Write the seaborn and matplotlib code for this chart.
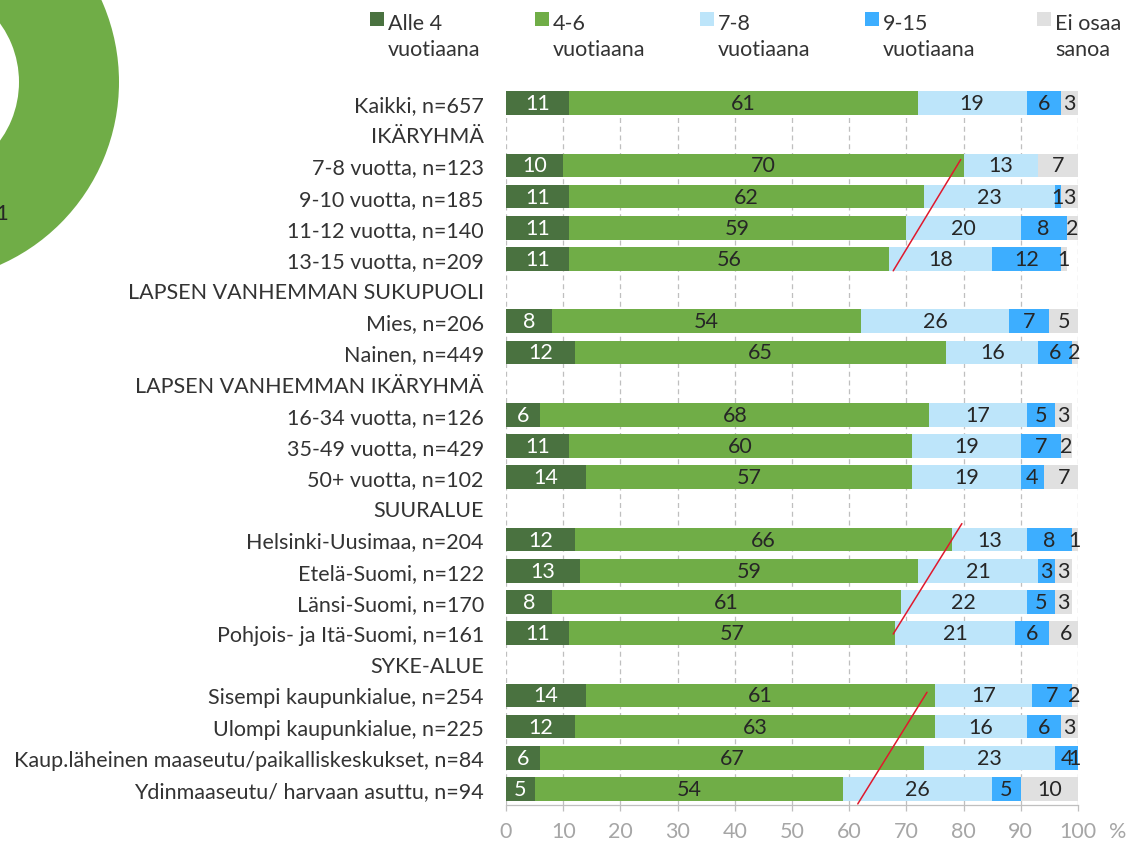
import numpy as np
import pandas as pd
import matplotlib
matplotlib.use("Agg")
import matplotlib.pyplot as plt
import seaborn as sns
from matplotlib.patches import Wedge, Rectangle

# ---------------- data ----------------
categories = [
    "Kaikki, n=657",
    "IKÄRYHMÄ",
    "7-8 vuotta, n=123",
    "9-10 vuotta, n=185",
    "11-12 vuotta, n=140",
    "13-15 vuotta, n=209",
    "LAPSEN VANHEMMAN SUKUPUOLI",
    "Mies, n=206",
    "Nainen, n=449",
    "LAPSEN VANHEMMAN IKÄRYHMÄ",
    "16-34 vuotta, n=126",
    "35-49 vuotta, n=429",
    "50+ vuotta, n=102",
    "SUURALUE",
    "Helsinki-Uusimaa, n=204",
    "Etelä-Suomi, n=122",
    "Länsi-Suomi, n=170",
    "Pohjois- ja Itä-Suomi, n=161",
    "SYKE-ALUE",
    "Sisempi kaupunkialue, n=254",
    "Ulompi kaupunkialue, n=225",
    "Kaup.läheinen maaseutu/paikalliskeskukset, n=84",
    "Ydinmaaseutu/ harvaan asuttu, n=94",
]
N = None
alle4 = [11, N, 10, 11, 11, 11, N, 8, 12, N, 6, 11, 14, N, 12, 13, 8, 11, N, 14, 12, 6, 5]
v4_6 = [61, N, 70, 62, 59, 56, N, 54, 65, N, 68, 60, 57, N, 66, 59, 61, 57, N, 61, 63, 67, 54]
v7_8 = [19, N, 13, 23, 20, 18, N, 26, 16, N, 17, 19, 19, N, 13, 21, 22, 21, N, 17, 16, 23, 26]
v9_15 = [6, N, 0, 1, 8, 12, N, 7, 6, N, 5, 7, 4, N, 8, 3, 5, 6, N, 7, 6, 4, 5]
ei_osaa = [3, N, 7, 3, 2, 1, N, 5, 2, N, 3, 2, 7, N, 1, 3, 3, 6, N, 2, 3, 1, 10]

series_labels = ["Alle 4\nvuotiaana", "4-6\nvuotiaana", "7-8\nvuotiaana",
                 "9-15\nvuotiaana", "Ei osaa\nsanoa"]
series_colors = ["#4a7240", "#70ad47", "#bde5fa", "#3daeff", "#e0e0e0"]
label_colors = ["white", "#262626", "#262626", "#262626", "#262626"]

x_ticks = [0, 10, 20, 30, 40, 50, 60, 70, 80, 90, 100]

# red hand-drawn marker lines (x from, x to, row from, row to)
red_x0 = [79.5, 79.7, 73.6]
red_x1 = [67.7, 67.7, 61.5]
red_r0 = [1.81, 13.49, 18.9]
red_r1 = [5.38, 17.03, 22.48]

# fragment of neighbouring donut chart (left edge)
donut_values = [61]
donut_labels = ["61"]

# ---------------- figure ----------------
sns.set_theme(style="white")
plt.rcParams["font.family"] = ["Lato", "DejaVu Sans"]
FS = 15.5
TXT = "#333333"
GREY = "#a6a6a6"

W, H = 1130, 845
fig = plt.figure(figsize=(W / 100, H / 100), dpi=100)

# overlay in pixel coordinates for legend / decorations
ov = fig.add_axes([0, 0, 1, 1], zorder=-1)
ov.set_xlim(0, W)
ov.set_ylim(H, 0)
ov.axis("off")
ov.patch.set_alpha(0)

ax_left, ax_right, ax_top, ax_bot = 506, 1078, 88.5, 805.5
ax = fig.add_axes([ax_left / W, 1 - ax_bot / H, (ax_right - ax_left) / W, (ax_bot - ax_top) / H])
ax.patch.set_alpha(0)

cols = ["a", "b", "c", "d", "e"]
df = pd.DataFrame({"cat": categories, "a": alle4, "b": v4_6, "c": v7_8, "d": v9_15, "e": ei_osaa})
vals = df[cols].astype(float).fillna(0)
cum = vals.cumsum(axis=1)

for k in range(len(cols) - 1, -1, -1):
    plot_df = pd.DataFrame({"cat": categories, "val": cum[cols[k]].values})
    sns.barplot(data=plot_df, x="val", y="cat", order=categories, orient="h",
                color=series_colors[k], saturation=1, width=0.76, linewidth=0,
                errorbar=None, ax=ax, zorder=3)

# value labels
for i in range(len(categories)):
    for k, c in enumerate(cols):
        v = vals.loc[i, c]
        if v > 0:
            xc = min(cum.loc[i, c] - v / 2, 99.3)
            ax.text(xc, i, f"{int(v)}", ha="center", va="center",
                    color=label_colors[k], fontsize=FS, zorder=5)

# red marker lines
for x0, x1, r0, r1 in zip(red_x0, red_x1, red_r0, red_r1):
    ax.plot([x0, x1], [r0, r1], color="#e0192d", lw=1.1, zorder=6, clip_on=False)

ax.set_xlim(0, 100)
ax.set_ylim(len(categories) - 0.5, -0.5)
ax.set_xticks(x_ticks)
ax.set_xticklabels([str(t) for t in x_ticks])
ax.set_xlabel("")
ax.set_ylabel("")
ax.grid(axis="x", color="#bfbfbf", linestyle=(0, (4, 3)), linewidth=0.9, zorder=0)
ax.grid(axis="y", visible=False)
ax.set_axisbelow(True)
for s in ["top", "right", "left"]:
    ax.spines[s].set_visible(False)
ax.spines["bottom"].set_color("#bfbfbf")
ax.spines["bottom"].set_linewidth(0.9)
ax.spines["bottom"].set_zorder(4)
ax.tick_params(axis="x", colors="#bfbfbf", labelcolor=GREY, labelsize=FS,
               length=4, width=0.9, direction="out", pad=8, bottom=True)
ax.tick_params(axis="y", length=0, pad=16, labelsize=FS, labelcolor=TXT)

ov.text(1118, 832, "%", ha="center", va="center", color=GREY, fontsize=FS)

# legend (manual)
leg_x = [370, 535, 700, 865, 1037]
for x, lab, col in zip(leg_x, series_labels, series_colors):
    ov.add_patch(Rectangle((x, 13), 14, 14, facecolor=col, edgecolor="none"))
    ov.text(x + 18, 13.5, lab, ha="left", va="top", color=TXT, fontsize=FS, linespacing=1.38)

# donut fragment at the left edge
ov.add_patch(Wedge((-81, 83), 200, 0, 360, width=100, facecolor="#70ad47", edgecolor="none"))
ov.text(10, 214, donut_labels[0], ha="right", va="center", color="#262626", fontsize=FS)

fig.savefig("out.png", dpi=100)
